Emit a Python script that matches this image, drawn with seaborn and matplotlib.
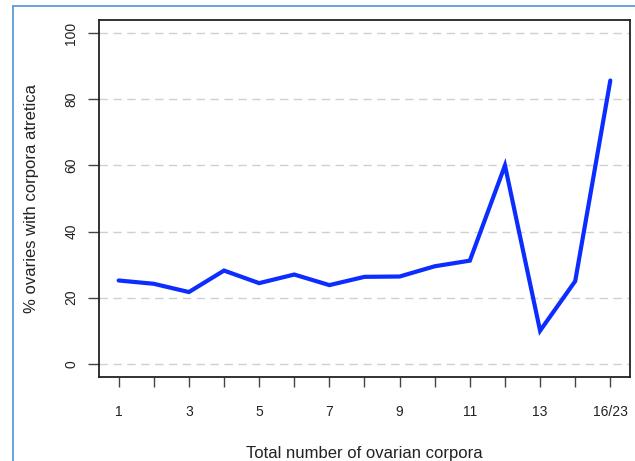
import matplotlib
matplotlib.use("Agg")
import matplotlib.pyplot as plt
import seaborn as sns
import pandas as pd

# data
corpora_labels = ["1", "2", "3", "4", "5", "6", "7", "8", "9", "10",
                  "11", "12", "13", "14", "16/23"]
pct_atretica = [25.2, 24.2, 21.7, 28.2, 24.4, 27.0, 23.8, 26.3, 26.4, 29.5,
                31.2, 60.0, 10.0, 25.0, 85.7]
y_ticks = [0, 20, 40, 60, 80, 100]

df = pd.DataFrame({"pos": range(1, len(corpora_labels) + 1), "pct": pct_atretica})

sns.set_theme(style="white")
plt.rcParams["font.family"] = ["Liberation Sans", "DejaVu Sans"]

fig = plt.figure(figsize=(6.35, 4.61), dpi=100)
ax = fig.add_axes([0.1559, 0.1822, 0.8362, 0.7744])

# dashed grid first so the line sits on top
for yv in y_ticks:
    ax.axhline(yv, color="#d0d0d0", lw=1, ls=(0, (6, 4)), zorder=0)

sns.lineplot(data=df, x="pos", y="pct", color="#0b2dff", lw=3.0, ax=ax,
             solid_joinstyle="miter", zorder=3)

ax.set_xlim(0.44, 15.56)
ax.set_ylim(-4, 104)
ax.set_xticks(df["pos"])
ax.set_xticklabels([lab if i % 2 == 0 else "" for i, lab in enumerate(corpora_labels)])
ax.set_yticks(y_ticks)
ax.set_yticklabels([str(v) for v in y_ticks], rotation=90, va="center")

ax.tick_params(axis="x", length=7.5, width=1, color="#444444", pad=13,
               labelsize=10, labelcolor="#222222", bottom=True)
ax.tick_params(axis="y", length=8, width=1, color="#444444", pad=7,
               labelsize=10, labelcolor="#222222", left=True)

for sp in ax.spines.values():
    sp.set_visible(True)
    sp.set_color("#222222")
    sp.set_linewidth(1.3)

ax.set_xlabel("Total number of ovarian corpora", fontsize=12, color="#222222", labelpad=19)
ax.set_ylabel("% ovaries with corpora atretica", fontsize=12, color="#222222", labelpad=18)

# light blue frame from the screenshot edge
fig.add_artist(plt.Line2D([0.0205, 1.0], [0.987, 0.987], transform=fig.transFigure,
                          color="#5b9bd5", lw=1.3))
fig.add_artist(plt.Line2D([0.0205, 0.0205], [0.0, 0.987], transform=fig.transFigure,
                          color="#5b9bd5", lw=1.3))

fig.savefig("out.png", dpi=100)
